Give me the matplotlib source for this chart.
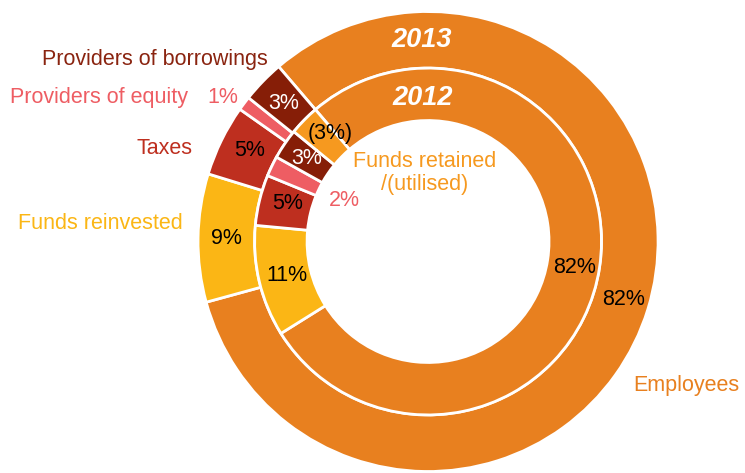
import matplotlib
matplotlib.use("Agg")
import numpy as np
import matplotlib.pyplot as plt

plt.rcParams['font.family'] = ['Liberation Sans', 'DejaVu Sans']

# Distribution of value added, 2013 (outer ring) and 2012 (inner ring)
categories = ["Employees", "Funds reinvested", "Taxes",
              "Providers of equity", "Providers of borrowings"]
values_2013 = [82, 9, 5, 1, 3]

categories_2012 = categories + ["Funds retained /(utilised)"]
values_2012 = [82, 11, 5, 2, 3, 3]          # retained funds drawn by magnitude
labels_2013 = ["82%", "9%", "5%", "1%", "3%"]
labels_2012 = ["82%", "11%", "5%", "2%", "3%", "(3%)"]

colors = {
    "Employees": "#E8801F",
    "Funds reinvested": "#FBB615",
    "Taxes": "#BE2F1F",
    "Providers of equity": "#EE5D63",
    "Providers of borrowings": "#861E07",
    "Funds retained /(utilised)": "#F6991F",
}
label_colors = {
    "Employees": "#E8801F",
    "Funds reinvested": "#FBB615",
    "Taxes": "#BE2F1F",
    "Providers of equity": "#EE5D63",
    "Providers of borrowings": "#8A2410",
    "Funds retained /(utilised)": "#F6991F",
}

R_OUT, R_MID, R_IN = 1.0, 0.754, 0.526
START = 130.5

fig = plt.figure(figsize=(7.45, 4.73), dpi=100)
ax = fig.add_axes([0, 0, 1, 1])

wedges_13, _ = ax.pie(values_2013, radius=R_OUT, startangle=START, counterclock=False,
                      colors=[colors[c] for c in categories],
                      wedgeprops=dict(width=R_OUT - R_MID, edgecolor="white", linewidth=2))
wedges_12, _ = ax.pie(values_2012, radius=R_MID, startangle=START, counterclock=False,
                      colors=[colors[c] for c in categories_2012],
                      wedgeprops=dict(width=R_MID - R_IN, edgecolor="white", linewidth=2))

ax.set_xlim(-1.861, 1.378)
ax.set_ylim(-1.0065, 1.05)
ax.set_aspect("auto")
ax.axis("off")

FS = 15.5


def mid_point(w, dx=0.0, dy=0.0):
    theta = np.deg2rad((w.theta1 + w.theta2) / 2)
    r = w.r - w.width / 2
    return r * np.cos(theta) + dx, r * np.sin(theta) + dy


# Percentages placed inside the smaller wedges
inside_2013 = {1: ("black", 0, 0), 2: ("black", 0.01, 0.01), 4: ("white", 0, -0.01)}
inside_2012 = {1: ("black", 0.01, 0), 2: ("black", 0.01, 0.01),
               4: ("white", 0, 0), 5: ("black", 0.03, 0.02)}
for idx, (col, ox, oy) in inside_2013.items():
    x, y = mid_point(wedges_13[idx], ox, oy)
    ax.text(x, y, labels_2013[idx], color=col, fontsize=FS, ha="center", va="center")
for idx, (col, ox, oy) in inside_2012.items():
    x, y = mid_point(wedges_12[idx], ox, oy)
    ax.text(x, y, labels_2012[idx], color=col, fontsize=FS, ha="center", va="center")

# Employees shares
ax.text(0.639, -0.115, labels_2012[0], fontsize=FS, ha="center", va="center", color="black")
ax.text(0.848, -0.254, labels_2013[0], fontsize=FS, ha="center", va="center", color="black")

# Small shares written beside their wedges
ax.text(-0.893, 0.628, labels_2013[3], fontsize=FS, ha="center", va="center",
        color=label_colors["Providers of equity"])
ax.text(-0.365, 0.180, labels_2012[3], fontsize=FS, ha="center", va="center",
        color=label_colors["Providers of equity"])

# Category names
ax.text(-0.696, 0.793, "Providers of borrowings", fontsize=FS, ha="right", va="center",
        color=label_colors["Providers of borrowings"])
ax.text(-1.043, 0.628, "Providers of equity", fontsize=FS, ha="right", va="center",
        color=label_colors["Providers of equity"])
ax.text(-1.022, 0.4065, "Taxes", fontsize=FS, ha="right", va="center",
        color=label_colors["Taxes"])
ax.text(-1.065, 0.0804, "Funds reinvested", fontsize=FS, ha="right", va="center",
        color=label_colors["Funds reinvested"])
ax.text(-0.013, 0.296, "Funds retained\n/(utilised)", fontsize=FS, ha="center", va="center",
        multialignment="center", linespacing=1.12,
        color=label_colors["Funds retained /(utilised)"])
ax.text(1.124, -0.624, "Employees", fontsize=FS, ha="center", va="center",
        color=label_colors["Employees"])

# Ring years
ax.text(-0.026, 0.876, "2013", fontsize=19.5, fontweight="bold", fontstyle="italic",
        color="white", ha="center", va="center")
ax.text(-0.024, 0.624, "2012", fontsize=19.5, fontweight="bold", fontstyle="italic",
        color="white", ha="center", va="center")

fig.savefig("out.png", dpi=100, facecolor="white")
